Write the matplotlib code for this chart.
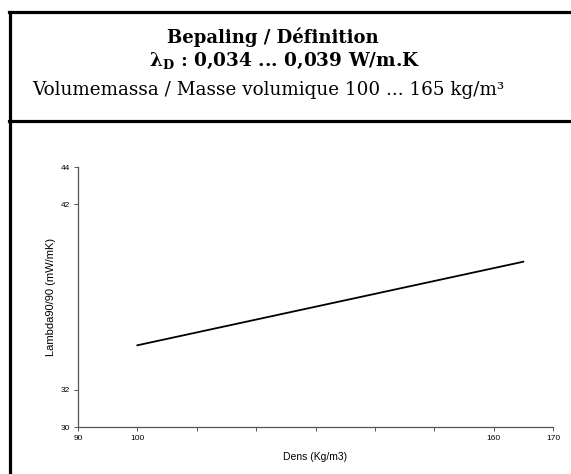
import matplotlib
matplotlib.use("Agg")
import matplotlib.pyplot as plt
from matplotlib.lines import Line2D

density = [100, 165]
lambda_vals = [34.4, 38.9]
x_ticks = [90, 100, 110, 120, 130, 140, 150, 160, 170]
x_ticklabels = ["90", "100", "", "", "", "", "", "160", "170"]
y_ticks = [30, 32, 42, 44]
y_ticklabels = ["30", "32", "42", "44"]

W, H = 571, 474
fig = plt.figure(figsize=(W / 100, H / 100), dpi=100)

def fx(px):
    return px / W

def fy(py):
    return 1 - py / H

# frame
lw = 2.3
fig.add_artist(Line2D([fx(10), fx(10)], [fy(12), fy(480)], color="black", lw=lw, transform=fig.transFigure))
fig.add_artist(Line2D([fx(9), fx(575)], [fy(12), fy(12)], color="black", lw=lw, transform=fig.transFigure))
fig.add_artist(Line2D([fx(9), fx(575)], [fy(121), fy(121)], color="black", lw=lw, transform=fig.transFigure))

serif = ["DejaVu Serif"]
plt.rcParams["mathtext.fontset"] = "dejavuserif"
fig.text(fx(273), fy(37), "Bepaling / Définition", ha="center", va="center",
         fontsize=13, fontweight="bold", family=serif)
fig.text(fx(285), fy(61), "λ$_{\\mathbf{D}}$ : 0,034 ... 0,039 W/m.K", ha="center", va="center",
         fontsize=13.3, fontweight="bold", family=serif)
fig.text(fx(268), fy(90), "Volumemassa / Masse volumique 100 ... 165 kg/m³", ha="center", va="center",
         fontsize=13.2, family=serif)

ax = fig.add_axes([fx(78), fy(427), fx(553) - fx(78), fy(167) - fy(427)])
ax.plot(density, lambda_vals, color="black", lw=1.3)
ax.set_xlim(90, 170)
ax.set_ylim(30, 44)
ax.set_xticks(x_ticks)
ax.set_xticklabels(x_ticklabels)
ax.set_yticks(y_ticks)
ax.set_yticklabels(y_ticklabels)
for s in ["top", "right"]:
    ax.spines[s].set_visible(False)
for s in ["left", "bottom"]:
    ax.spines[s].set_color("#555555")
    ax.spines[s].set_linewidth(0.9)
ax.tick_params(axis="both", labelsize=6, length=3, width=0.7, color="#555555", pad=3,
               labelfontfamily="Liberation Sans")
ax.set_xlabel("Dens (Kg/m3)", fontsize=7.5, family="Liberation Sans", labelpad=7)
ax.set_ylabel("Lambda90/90 (mW/mK)", fontsize=8, family="Liberation Sans", labelpad=3)

fig.savefig("out.png", dpi=100)
